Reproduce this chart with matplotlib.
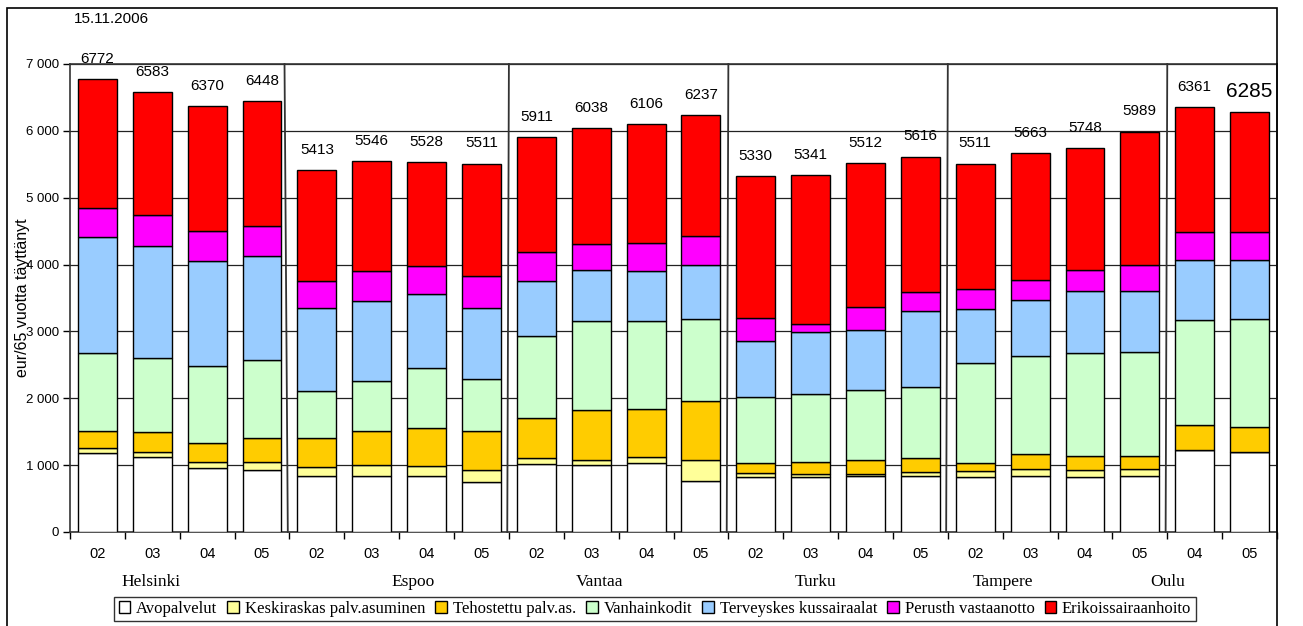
import matplotlib
matplotlib.use('Agg')
import matplotlib.pyplot as plt
import matplotlib.transforms as mtransforms
from matplotlib.patches import Rectangle
from matplotlib.ticker import FuncFormatter
import numpy as np

# --- data (eur / 65 years of age) ---
cities = ['Helsinki', 'Espoo', 'Vantaa', 'Turku', 'Tampere', 'Oulu']
years = [['02', '03', '04', '05'], ['02', '03', '04', '05'], ['02', '03', '04', '05'],
         ['02', '03', '04', '05'], ['02', '03', '04', '05'], ['04', '05']]
series_names = ['Avopalvelut', 'Keskiraskas palv.asuminen', 'Tehostettu palv.as.',
                'Vanhainkodit', 'Terveyskes kussairaalat', 'Perusth vastaanotto',
                'Erikoissairaanhoito']

avopalvelut = [1182, 1122, 962, 923, 833, 833, 833, 743, 1017, 997, 1032, 758,
               818, 818, 833, 833, 818, 833, 818, 833, 1222, 1201]
keskiraskas = [70, 79, 85, 124, 134, 164, 149, 180, 90, 75, 95, 314,
               60, 54, 39, 60, 90, 109, 109, 109, 0, 0]
tehostettu = [258, 290, 280, 354, 434, 509, 578, 583, 603, 748, 708, 892,
              149, 180, 200, 214, 129, 220, 215, 200, 383, 365]
vanhainkodit = [1172, 1111, 1151, 1167, 713, 752, 893, 782, 1221, 1331, 1316, 1227,
                992, 1007, 1056, 1062, 1495, 1475, 1535, 1550, 1571, 1625]
terveyskeskus = [1730, 1680, 1571, 1555, 1236, 1197, 1102, 1062, 823, 763, 748, 798,
                 838, 932, 893, 1132, 803, 828, 933, 918, 888, 873]
perusth = [438, 459, 458, 454, 409, 449, 419, 479, 439, 389, 424, 443,
           349, 125, 349, 293, 304, 304, 304, 383, 423, 423]
erikois = [1922, 1842, 1863, 1871, 1654, 1642, 1554, 1682, 1718, 1735, 1783, 1805,
           2124, 2225, 2142, 2022, 1872, 1894, 1834, 1996, 1874, 1798]
totals = [6772, 6583, 6370, 6448, 5413, 5546, 5528, 5511, 5911, 6038, 6106, 6237,
          5330, 5341, 5512, 5616, 5511, 5663, 5748, 5989, 6361, 6285]

colors = ['#FFFFFF', '#FFFF99', '#FFCC00', '#CCFFCC', '#99CCFF', '#FF00FF', '#FF0000']

# where the city names sit under the year labels (in bar index units)
city_label_x = [0.97, 5.75, 9.16, 13.08, 16.5, 19.5]

plt.rcParams['font.family'] = ['Liberation Sans', 'DejaVu Sans']
serif = ['Liberation Serif', 'DejaVu Serif']

fig = plt.figure(figsize=(13.03, 6.26), dpi=100)
ax = fig.add_axes([70 / 1303, 1 - 532 / 626, (1277 - 70) / 1303, (532 - 64) / 626])

series = [avopalvelut, keskiraskas, tehostettu, vanhainkodit, terveyskeskus, perusth, erikois]
n = len(totals)
x = np.arange(n)
bottom = np.zeros(n)
handles = []
for name, vals, col in zip(series_names, series, colors):
    vals = np.array(vals, dtype=float)
    b = ax.bar(x, vals, bottom=bottom, width=0.71, color=col, edgecolor='black',
               linewidth=1.0, label=name, zorder=3)
    handles.append(b)
    bottom += vals

# totals above the bars
for i, t in enumerate(totals):
    fs = 15 if i == n - 1 else 11
    ax.annotate(str(t), (x[i], bottom[i]), xytext=(0, 14.5), textcoords='offset points',
                ha='center', va='center', fontsize=fs, zorder=5)

# axes
ax.set_xlim(-0.5, n - 0.5)
ax.set_ylim(0, 7000)
ax.set_yticks(np.arange(0, 7001, 1000))
ax.yaxis.set_major_formatter(FuncFormatter(lambda v, p: f'{v:,.0f}'.replace(',', ' ')))
ax.tick_params(axis='y', direction='out', length=5, width=1, labelsize=9.5, pad=3)
ax.grid(axis='y', color='#222222', linewidth=0.9, zorder=0)

ax.set_xticks(np.arange(-0.5, n, 1.0))
ax.set_xticklabels([])
ax.tick_params(axis='x', which='major', direction='out', length=5, width=1)
ax.set_xticks(x, minor=True)
ax.set_xticklabels([y for grp in years for y in grp], minor=True)
ax.tick_params(axis='x', which='minor', length=0, labelsize=10.5, pad=11)

for s in ax.spines.values():
    s.set_color('#333333')
    s.set_linewidth(1.2)

# group separators
sizes = [len(g) for g in years]
edges = np.cumsum(sizes)[:-1] - 0.5
for k, e in enumerate(edges):
    top_x = e - 0.09 if k == 0 else e
    ax.plot([e - 0.03, top_x], [0, 7000], color='#333333', linewidth=1.3, zorder=4,
            clip_on=False)

ax.set_ylabel('eur/65 vuotta täyttänyt', fontsize=11.5)
ax.yaxis.set_label_coords(-0.033, 0.5)

trans = mtransforms.blended_transform_factory(ax.transData, ax.transAxes)
for name, cx in zip(cities, city_label_x):
    ax.text(cx, -0.106, name, transform=trans, ha='center', va='center',
            fontsize=12.5, family=serif)

fig.text(74 / 1303, 1 - 19 / 626, '15.11.2006', fontsize=11, ha='left', va='center')

leg = fig.legend(handles=handles, labels=series_names, loc='center', ncol=7,
                 bbox_to_anchor=((115 + 1195) / 2 / 1303, 1 - 609 / 626),
                 prop={'family': serif, 'size': 12}, frameon=True, fancybox=False,
                 edgecolor='black', handlelength=0.7, handleheight=0.7,
                 handletextpad=0.35, columnspacing=0.6, borderpad=0.25,
                 borderaxespad=0)
leg.get_frame().set_linewidth(1.0)
for h in leg.legend_handles:
    h.set_edgecolor('black')
    h.set_linewidth(1.0)

# outer chart frame
fig.patches.append(Rectangle((7 / 1303, -0.02), (1277 - 7) / 1303, 1 - 8 / 626 + 0.02,
                             transform=fig.transFigure, fill=False, edgecolor='black',
                             linewidth=1.2, zorder=0))

fig.savefig('out.png', dpi=100)
